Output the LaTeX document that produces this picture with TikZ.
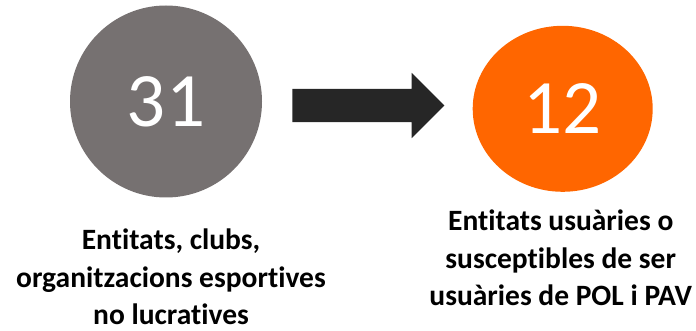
\documentclass[tikz,border=0pt]{standalone}
\usepackage{fontspec}
\setmainfont{Carlito}
\newfontfamily\captionfont[Ligatures=NoCommon]{Carlito}
\usetikzlibrary{shapes.geometric, shapes.arrows, positioning}

\definecolor{clubgray}{HTML}{767171}
\definecolor{userorange}{HTML}{FF6600}
\definecolor{arrowdark}{HTML}{262626}

\begin{document}
\begin{tikzpicture}[
    x=1pt, y=-1pt,
    count/.style={inner sep=0pt, text=white, font=\fontsize{77}{77}\selectfont},
    caption/.style={inner sep=0pt, align=center, text=black, font=\captionfont\fontsize{29.5}{37.5}\selectfont\bfseries},
    bigarrow/.style={single arrow, draw=none, fill=arrowdark, inner sep=0pt, text height=33pt, text depth=0pt, minimum height=152pt, single arrow head extend=16pt, single arrow tip angle=90, shape border rotate=0},
]
    \useasboundingbox (0,0) rectangle (696,331);

    \node (clubs) [count, circle, fill=clubgray, minimum size=192pt] at (166,101.5) {31};
    \node (users) [count, ellipse, fill=userorange, minimum width=180pt, minimum height=166pt] at (562.7,108.8) {12};

    \node (flow) [bigarrow] at (360,105.5) {};

    \node (clubs_text) [caption, below=31pt of clubs, xshift=5pt]
      {Entitats, clubs,\\organitzacions esportives\\no lucratives};
    \node (users_text) [caption, below=18pt of users, xshift=-2pt]
      {Entitats usuàries o\\susceptibles de ser\\usuàries de POL i PAV};

\end{tikzpicture}
\end{document}
